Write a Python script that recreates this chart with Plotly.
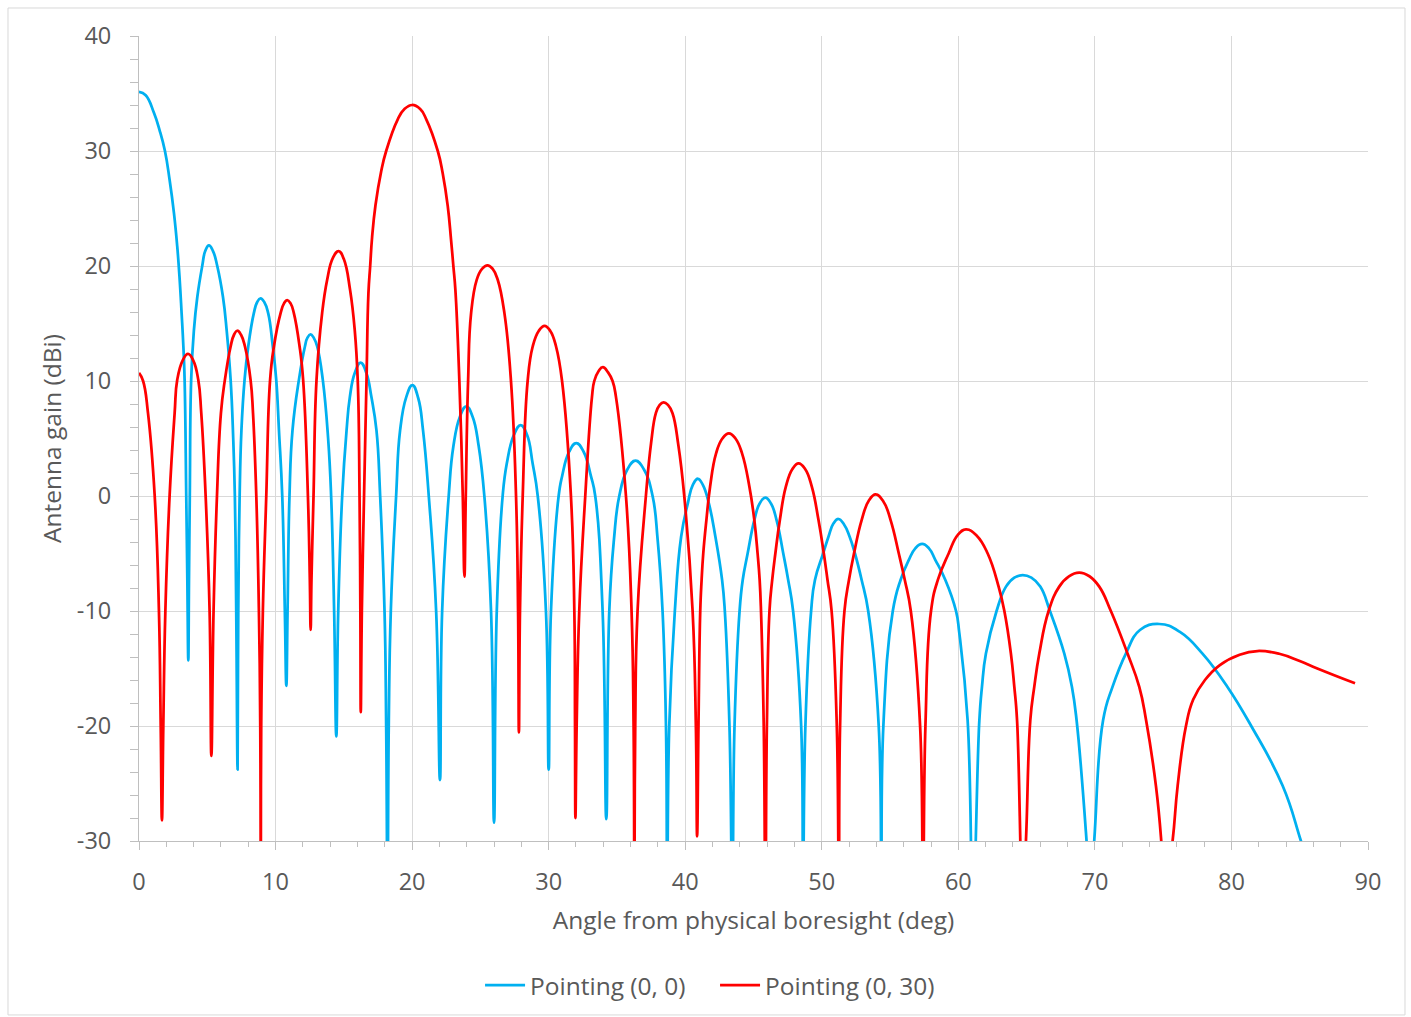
import plotly.graph_objects as go

# Antenna gain pattern cuts (angle in deg, gain in dBi).
# Nulls that fall below the -30 dBi floor are listed at -35 so the axis clips them.
blue_deg = [
    0.00, 0.49, 1.10, 1.51, 1.90, 2.24, 2.56, 2.80, 2.98, 3.12, 3.25, 3.34, 3.46, 3.54, 3.61,
    3.66, 3.72, 3.82, 4.02, 4.27, 4.63, 4.85, 5.12, 5.42, 5.73, 6.15, 6.42, 6.71, 6.90, 7.02, 7.12, 7.22,
    7.27, 7.37, 7.50, 7.73, 8.00, 8.41, 8.65, 8.90, 9.18, 9.46, 9.80, 10.05, 10.25, 10.49, 10.68, 10.79,
    10.88, 11.02, 11.24, 11.71, 12.15, 12.33, 12.56, 12.80, 13.05, 13.46, 13.85, 14.07, 14.29, 14.45,
    14.59, 14.88, 15.20, 15.44, 15.80, 16.23, 16.65, 17.02, 17.39, 17.66, 17.98, 18.10, 18.20,
    18.29, 18.44, 18.83, 19.12, 19.57, 20.02, 20.45, 20.80, 21.22, 21.76, 22.04,
    22.20, 22.68, 23.02, 23.50, 23.97, 24.43, 24.88, 25.29, 25.78, 26.00,
    26.20, 26.63, 26.93, 27.45, 27.95, 28.42, 28.83, 29.20, 29.80, 30.00,
    30.17, 30.73, 30.98, 31.50, 32.02, 32.56, 33.10, 33.41, 33.95, 34.22,
    34.44, 34.78, 35.17, 35.76, 36.36, 36.98, 37.61, 37.98, 38.34, 38.59, 38.68,
    38.83, 39.24, 39.70, 40.19, 40.55, 40.93, 41.30, 41.73, 42.21, 42.70, 42.90, 43.24, 43.45,
    43.61, 43.98, 44.21, 44.57, 45.06, 45.45, 45.86, 46.28, 46.69, 47.18, 47.54, 47.90, 48.49, 48.62,
    48.80, 49.22, 49.50, 50.10, 50.49, 50.85, 51.22, 51.62, 52.04, 52.43, 52.92, 53.40, 54.17, 54.36,
    54.51, 55.20, 55.77, 56.37, 56.85, 57.35, 57.85, 58.32, 59.05, 59.83, 60.07, 60.68, 61.07,
    61.54, 61.73, 62.02, 62.80, 63.49, 64.10, 64.71, 65.35, 66.00, 66.71, 67.76, 68.32, 68.66, 69.39, 69.65,
    69.95, 70.60, 71.29, 72.27, 73.30, 74.71, 76.20, 77.88, 79.71, 81.45, 83.75, 85.09, 86.00,
]
blue_gain = [
    35.15, 34.85, 33.3, 31.8, 30.0, 27.5, 24.6, 21.7, 18.8, 15.9, 13.0, 10.1, 0.0, -7.3, -14.3,
    -7.3, 0.0, 10.1, 14.4, 17.3, 20.0, 21.3, 21.8, 21.3, 20.0, 17.3, 14.4, 10.1, 5.0, 0.0, -10.0, -23.8,
    -10.0, 0.0, 5.7, 10.1, 13.0, 15.9, 16.85, 17.18, 16.85, 15.9, 13.0, 10.1, 5.7, 0.0, -10.0, -16.5,
    -10.0, 0.0, 5.7, 10.1, 13.0, 13.75, 14.05, 13.75, 13.0, 10.1, 5.0, 0.0, -10.0, -20.9,
    -10.0, 0.0, 5.7, 8.6, 10.7, 11.6, 10.7, 8.6, 5.7, 0.0, -10.0, -20.0, -35.0,
    -20.0, -10.0, 0.0, 5.7, 8.6, 9.65, 8.5, 5.7, 0.0, -10.0, -24.7,
    -10.0, 0.0, 4.3, 6.9, 7.8, 6.9, 4.3, 0.0, -10.0, -28.4,
    -10.0, 0.0, 2.8, 5.3, 6.17, 5.3, 2.8, 0.0, -10.0, -23.8,
    -10.0, 0.0, 1.7, 3.85, 4.6, 3.85, 1.7, 0.0, -10.0, -28.1,
    -10.0, -3.8, 0.0, 2.3, 3.07, 2.3, 0.0, -3.8, -10.0, -20.0, -35.0,
    -20.0, -10.0, -3.54, -0.64, 0.94, 1.5, 0.94, -0.64, -3.54, -7.3, -10.0, -20.0, -35.0,
    -20.0, -10.0, -7.3, -5.0, -2.1, -0.65, -0.14, -0.65, -2.1, -5.0, -7.3, -10.0, -20.0, -35.0,
    -20.0, -10.0, -7.3, -5.0, -3.54, -2.4, -2.0, -2.45, -3.54, -5.0, -7.3, -10.0, -20.0, -35.0,
    -20.0, -10.0, -7.3, -5.57, -4.55, -4.17, -4.55, -5.57, -7.3, -10.0, -11.9, -19.5, -35.0,
    -19.5, -16.6, -13.7, -10.0, -7.88, -7.1, -6.87, -7.1, -7.88, -10.0, -13.7, -16.6, -19.5, -30.0, -35.0,
    -30.0, -19.5, -16.6, -13.7, -11.65, -11.13, -11.8, -13.7, -16.6, -20.0, -25.2, -30.0, -33.5,
]

red_deg = [
    0.00, 0.30, 0.66, 1.15, 1.46, 1.59, 1.68,
    1.78, 1.93, 2.24, 2.61, 2.80, 3.20, 3.59, 3.97, 4.34, 4.56, 4.88, 5.17, 5.30,
    5.46, 5.71, 6.00, 6.29, 6.71, 6.95, 7.20, 7.48, 7.76, 8.17, 8.35, 8.59, 8.78, 8.88, 8.92,
    8.95, 9.07, 9.32, 9.60, 9.88, 10.37, 10.62, 10.85, 11.10, 11.34, 11.76, 12.02, 12.37, 12.51, 12.57,
    12.63, 12.78, 13.00, 13.41, 13.78, 14.20, 14.62, 15.00, 15.46, 15.80, 16.02, 16.15, 16.21, 16.24,
    16.32, 16.48, 16.66, 16.80, 16.93, 17.07, 17.32, 17.73, 18.10, 18.95, 19.44, 20.00,
    20.59, 21.02, 21.88, 22.24, 22.61, 22.85, 23.02, 23.17, 23.46, 23.71, 23.83,
    23.93, 24.10, 24.32, 24.73, 25.12, 25.52, 25.90, 26.27, 26.76, 27.24, 27.61, 27.76, 27.82,
    27.90, 28.10, 28.46, 28.83, 29.27, 29.70, 30.12, 30.54, 30.98, 31.63, 31.88, 31.93, 31.96,
    32.05, 32.24, 32.68, 33.17, 33.34, 33.65, 33.97, 34.35, 34.68, 34.93, 35.66, 36.07, 36.22, 36.28,
    36.34, 36.51, 37.12, 37.50, 37.85, 38.12, 38.42, 38.75, 39.07, 39.50, 39.93, 40.54, 40.78, 40.87,
    40.97, 41.10, 41.20, 41.32, 41.55, 41.82, 42.26, 42.72, 43.20, 43.68, 44.16, 44.70, 45.06, 45.30, 45.45, 45.55, 45.75, 45.87,
    45.98, 46.17, 46.37, 46.60, 46.93, 47.37, 47.85, 48.30, 48.78, 49.27, 49.76, 50.15, 50.42, 50.72, 51.10, 51.25,
    51.34, 51.66, 51.99, 52.36, 52.92, 53.45, 53.94, 54.50, 55.04, 55.64, 56.08, 56.52, 57.20, 57.41,
    57.59, 58.00, 58.50, 59.29, 59.95, 60.56, 61.35, 62.15, 62.95, 63.37, 63.85, 64.10, 64.30, 64.72,
    64.95, 65.27, 65.56, 65.93, 66.61, 67.39, 68.10, 68.85, 69.60, 70.32, 71.17, 72.39, 73.25, 73.75, 74.47, 74.86, 75.10,
    75.69, 76.06, 76.67, 77.20, 78.06, 79.15, 80.60, 81.90, 83.50, 85.00, 86.29, 89.05,
]
red_gain = [
    10.7, 10.0, 7.2, 0.0, -10.0, -20.0, -28.2,
    -20.0, -10.0, 0.0, 7.2, 10.1, 11.8, 12.35, 11.8, 10.1, 7.2, 0.0, -10.0, -22.6,
    -10.0, 0.0, 7.2, 10.1, 13.0, 14.0, 14.37, 14.0, 13.0, 10.1, 7.2, 0.0, -10.0, -20.0, -35.0,
    -20.0, -10.0, 0.0, 10.1, 13.0, 15.9, 16.75, 17.04, 16.75, 15.9, 13.0, 10.1, 0.0, -7.3, -11.65,
    -7.3, 0.0, 10.1, 15.9, 18.8, 20.7, 21.3, 20.6, 17.9, 14.4, 10.0, 0.0, -10.0, -18.8,
    -10.0, 0.0, 10.0, 17.6, 20.0, 22.5, 25.3, 28.2, 30.0, 32.75, 33.65, 34.0,
    33.65, 32.8, 30.0, 28.06, 25.2, 22.3, 20.0, 17.9, 10.0, 0.0, -7.0,
    0.0, 10.0, 15.9, 18.8, 19.75, 20.05, 19.75, 18.8, 15.9, 10.0, 0.0, -10.0, -20.55,
    -10.0, 0.0, 10.0, 13.0, 14.35, 14.8, 14.35, 13.0, 10.0, 0.0, -10.0, -20.0, -28.0,
    -20.0, -10.0, 0.0, 8.6, 10.0, 10.85, 11.2, 10.75, 10.0, 8.6, 0.0, -10.0, -20.0, -35.0,
    -20.0, -10.0, 0.0, 4.6, 7.2, 7.9, 8.15, 7.9, 7.2, 4.4, 0.0, -10.0, -20.0, -29.6,
    -20.0, -10.0, -7.3, -5.0, -2.09, 0.81, 3.71, 5.0, 5.45, 5.0, 3.71, 0.81, -2.09, -5.0, -7.3, -10.0, -20.0, -35.0,
    -20.0, -10.0, -7.3, -5.0, -2.09, 0.81, 2.35, 2.84, 2.35, 0.81, -2.09, -5.0, -7.3, -10.0, -20.0, -35.0,
    -20.0, -10.0, -7.3, -5.0, -2.09, -0.4, 0.14, -0.45, -2.09, -5.0, -7.3, -10.0, -20.0, -35.0,
    -20.0, -10.0, -7.3, -5.0, -3.4, -2.9, -3.45, -5.0, -7.88, -10.0, -13.7, -16.6, -19.5, -35.0,
    -30.0, -19.5, -16.6, -13.7, -10.0, -7.88, -6.99, -6.67, -6.98, -7.88, -10.0, -13.7, -16.6, -19.5, -25.2, -30.0, -35.0,
    -30.0, -25.2, -20.0, -17.7, -16.0, -14.7, -13.8, -13.48, -13.72, -14.35, -15.0, -16.29,
]

series_names = ["Pointing (0, 0)", "Pointing (0, 30)"]
series_colors = ["#00B0F0", "#FF0000"]

x_ticks = list(range(0, 91, 10))
y_ticks = list(range(-30, 41, 10))
y_ticktext = [str(v) for v in y_ticks]

FONT = "Open Sans"
TXT = "#595959"
GRID = "#D9D9D9"
AXIS = "#BFBFBF"
FS_TICK = 23.5
FS_TITLE = 24.5

fig = go.Figure()
for xs, ys, name, col in [
    (blue_deg, blue_gain, series_names[0], series_colors[0]),
    (red_deg, red_gain, series_names[1], series_colors[1]),
]:
    fig.add_trace(go.Scatter(
        x=xs, y=ys, name=name, mode="lines",
        line=dict(color=col, width=2.75, shape="spline", smoothing=1.3),
    ))

axis_common = dict(
    showgrid=True, gridcolor=GRID, gridwidth=1,
    showline=True, linecolor=AXIS, linewidth=1,
    zeroline=False,
    ticks="outside", ticklen=8, tickcolor=AXIS, tickwidth=1,
    tickfont=dict(family=FONT, size=FS_TICK, color=TXT),
)

fig.update_xaxes(
    **axis_common,
    range=[0, 90], tickvals=x_ticks,
    minor=dict(dtick=2, ticks="outside", ticklen=5, tickcolor=AXIS, showgrid=False),
    ticklabelstandoff=12,
    title=dict(text="Angle from physical boresight (deg)",
               font=dict(family=FONT, size=FS_TITLE, color=TXT), standoff=15),
)
fig.update_yaxes(
    **axis_common,
    range=[-30, 40], tickvals=y_ticks, ticktext=y_ticktext,
    minor=dict(dtick=2, ticks="outside", ticklen=8, tickcolor=AXIS, showgrid=False),
    ticklabelstandoff=14,
    title=dict(text="Antenna gain (dBi)",
               font=dict(family=FONT, size=FS_TITLE, color=TXT), standoff=8),
)

fig.update_layout(
    width=1411, height=1017,
    margin=dict(l=139, r=43, t=36, b=176, autoexpand=False),
    paper_bgcolor="white", plot_bgcolor="white",
    font=dict(family=FONT, color=TXT),
    showlegend=True,
    legend=dict(orientation="h", x=0.2775, xanchor="left", y=-0.179, yanchor="middle",
                font=dict(family=FONT, size=FS_TITLE, color=TXT), itemwidth=40,
                entrywidth=180, entrywidthmode="pixels",
                bgcolor="rgba(0,0,0,0)"),
    shapes=[dict(type="rect", xref="paper", yref="paper",
                 x0=-0.1066, x1=1.0301, y0=-0.2161, y1=1.0348,
                 line=dict(color=GRID, width=1), fillcolor="rgba(0,0,0,0)", layer="below")],
)

fig.write_html("out.html")
